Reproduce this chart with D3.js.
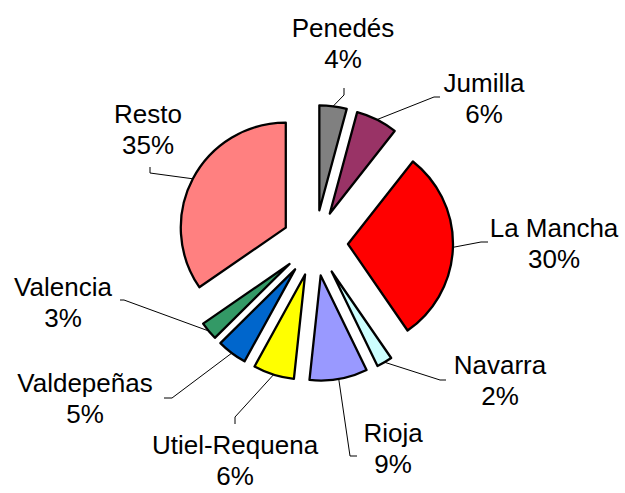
<head>
  <meta charset="utf-8">
  <script src="https://d3js.org/d3.v7.min.js"></script>
</head>
<style>
  body { margin: 0; background: #fff; }
  text { font-family: "Liberation Sans", Arial, sans-serif; font-size: 26px; fill: #000; }
</style>
<body>
  <svg id="svg_pie"></svg>
</body>
<script>
  var w = 625;
  var h = 493;

  // data (shares in %, labels show them rounded)
  var categories = ["Penedés", "Jumilla", "La Mancha", "Navarra", "Rioja", "Utiel-Requena", "Valdepeñas", "Valencia", "Resto"];
  var shares = [4.2, 6.4, 29.8, 2.4, 8.9, 6.3, 4.6, 2.8, 34.6];
  var colors = ["#808080", "#993366", "#FF0000", "#CCFFFF", "#9999FF", "#FFFF00", "#0066CC", "#339966", "#FF8080"];

  // label placement (first baseline) and the label end of each leader line
  var labelPos = [
    {x: 343, y: 37,  lead: [[344, 88], [344, 95]]},
    {x: 484, y: 92,  lead: [[440, 97], [434, 97]]},
    {x: 554, y: 237, lead: [[488, 242], [481, 242]]},
    {x: 500, y: 374, lead: [[446, 380], [440, 380]]},
    {x: 393, y: 442, lead: [[357, 456], [350, 456]]},
    {x: 235, y: 454, lead: [[235, 424], [235, 417]]},
    {x: 85,  y: 392, lead: [[164, 398], [172, 398]]},
    {x: 63,  y: 296, lead: [[120, 300], [124, 300]]},
    {x: 148, y: 123, lead: [[150, 167], [150, 173]]}
  ];

  var cx = 315, cy = 243;
  var radius = 105;
  var explode = 33;
  var lineGap = 31;

  var total = d3.sum(shares);
  var pct = function(v){ return Math.round(v / total * 100) + "%"; };

  var svg = d3.select("svg#svg_pie")
      .attr("width", w)
      .attr("height", h);

  var pie = d3.pie().sort(null).value(function(d){ return d; });
  var arcs = pie(shares);

  var arc = d3.arc()
      .innerRadius(0)
      .outerRadius(radius);

  function offset(d, r){
    var a = (d.startAngle + d.endAngle) / 2;
    return [Math.sin(a) * r, -Math.cos(a) * r];
  }

  // leader lines first so slices draw over the ends
  var line = d3.line();
  svg.append("g").selectAll("path")
      .data(arcs)
      .enter().append("path")
      .attr("d", function(d, i){
        var p = offset(d, explode + radius);
        var pts = labelPos[i].lead.concat([[cx + p[0], cy + p[1]]]);
        return line(pts);
      })
      .style("fill", "none")
      .style("stroke", "#000")
      .style("stroke-width", 1);

  var g = svg.append("g")
      .attr("transform", "translate(" + cx + "," + cy + ")");

  g.selectAll("path")
      .data(arcs)
      .enter().append("path")
      .attr("transform", function(d){
        var o = offset(d, explode);
        return "translate(" + o[0] + "," + o[1] + ")";
      })
      .attr("d", arc)
      .style("fill", function(d, i){ return colors[i]; })
      .style("stroke", "#000")
      .style("stroke-width", 2.3)
      .style("stroke-linejoin", "round");

  var labels = svg.append("g").selectAll("text")
      .data(arcs)
      .enter().append("text")
      .attr("text-anchor", "middle")
      .attr("x", function(d, i){ return labelPos[i].x; })
      .attr("y", function(d, i){ return labelPos[i].y; });

  labels.append("tspan")
      .attr("x", function(d, i){ return labelPos[i].x; })
      .text(function(d, i){ return categories[i]; });
  labels.append("tspan")
      .attr("x", function(d, i){ return labelPos[i].x; })
      .attr("dy", lineGap)
      .text(function(d){ return pct(d.data); });
</script>
